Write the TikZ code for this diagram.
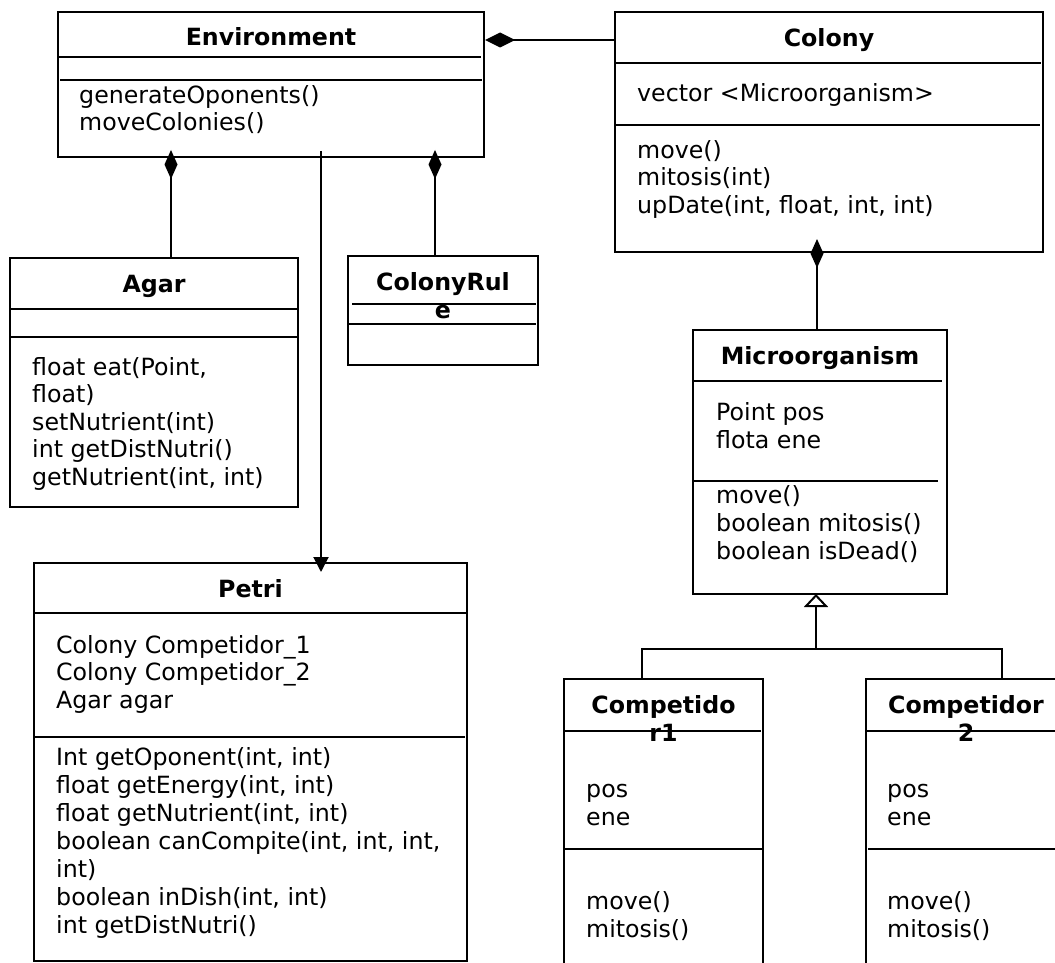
\documentclass[tikz,border=0pt]{standalone}
\usepackage{fontspec}
\setmainfont{DejaVu Sans}
\usetikzlibrary{arrows.meta}
\tikzset{
  umlbox/.style={draw, line width=2pt, anchor=north west, inner sep=0pt, outer sep=0pt},
  sep/.style={line width=2pt},
  txt/.style={anchor=base west, inner sep=0pt, font=\fontsize{23.7pt}{27pt}\selectfont},
  ttl/.style={anchor=base, inner sep=0pt, font=\fontsize{23.7pt}{27pt}\selectfont\bfseries},
  conn/.style={line width=2pt},
  compo/.style={conn, -{Diamond[length=29pt,width=13pt]}},
  nav/.style={conn, -{Triangle[length=15pt,width=15pt]}},
  gener/.style={conn, -{Triangle[open,length=13pt,width=24pt]}}
}
\begin{document}
\begin{tikzpicture}[x=1pt,y=-1pt]
\useasboundingbox (0,0) rectangle (1055,963);
\clip (0,0) rectangle (1055,963);

% ---------------- boxes
\node[umlbox, minimum width=426pt, minimum height=145pt] (env) at (58,12) {};
\node[umlbox, minimum width=428pt, minimum height=240pt] (colony) at (615,12) {};
\node[umlbox, minimum width=288pt, minimum height=249pt] (agar) at (10,258) {};
\node[umlbox, minimum width=190pt, minimum height=109pt] (colrule) at (348,256) {};
\node[umlbox, minimum width=433pt, minimum height=398pt] (petri) at (34,563) {};
\node[umlbox, minimum width=254pt, minimum height=264pt] (micro) at (693,330) {};
\node[umlbox, minimum width=199pt, minimum height=330pt] (comp1) at (564,679) {};
\node[umlbox, minimum width=200pt, minimum height=330pt] (comp2) at (866,679) {};

% ---------------- Environment
\node[ttl] (envT) at (271,46) {Environment};
\draw[sep] (58,57) -- (481,57);
\draw[sep] (60,80) -- (482,80);
\node[txt] (envM1) at (79,104) {generateOponents()};
\node[txt] (envM2) at (79,131) {moveColonies()};

% ---------------- Colony
\node[ttl] (colT) at (829,47) {Colony};
\draw[sep] (615,63) -- (1041,63);
\node[txt] (colA1) at (637,102) {vector <Microorganism>};
\draw[sep] (615,125) -- (1040,125);
\node[txt] (colM1) at (637,158) {move()};
\node[txt] (colM2) at (637,185.5) {mitosis(int)};
\node[txt] (colM3) at (637,213) {upDate(int, float, int, int)};

% ---------------- Agar
\node[ttl] (agT) at (154,292) {Agar};
\draw[sep] (10,309) -- (298,309);
\draw[sep] (10,337) -- (298,337);
\node[txt] (agM1) at (32,375) {float eat(Point,};
\node[txt] (agM2) at (32,402.5) {float)};
\node[txt] (agM3) at (32,430) {setNutrient(int)};
\node[txt] (agM4) at (32,457.5) {int getDistNutri()};
\node[txt] (agM5) at (32,485) {getNutrient(int, int)};

% ---------------- ColonyRule
\draw[sep] (352,304) -- (536,304);
\draw[sep] (348,324) -- (536,324);
\node[ttl] (crT1) at (443,290) {ColonyRul};
\node[ttl] (crT2) at (443,318) {e};

% ---------------- Petri
\node[ttl] (peT) at (250.5,597) {Petri};
\draw[sep] (34,613) -- (467,613);
\node[txt] (peA1) at (56,653) {Colony Competidor\_1};
\node[txt] (peA2) at (56,680.5) {Colony Competidor\_2};
\node[txt] (peA3) at (56,708) {Agar agar};
\draw[sep] (34,737) -- (465,737);
\node[txt] (peM1) at (56,765) {Int getOponent(int, int)};
\node[txt] (peM2) at (56,793) {float getEnergy(int, int)};
\node[txt] (peM3) at (56,821) {float getNutrient(int, int)};
\node[txt] (peM4) at (56,849) {boolean canCompite(int, int, int,};
\node[txt] (peM5) at (56,877) {int)};
\node[txt] (peM6) at (56,905) {boolean inDish(int, int)};
\node[txt] (peM7) at (56,933) {int getDistNutri()};

% ---------------- Microorganism
\node[ttl] (miT) at (820,364) {Microorganism};
\draw[sep] (693,381) -- (942,381);
\node[txt] (miA1) at (716,420) {Point pos};
\node[txt] (miA2) at (716,448) {flota ene};
\draw[sep] (693,481) -- (938,481);
\node[txt] (miM1) at (716,503) {move()};
\node[txt] (miM2) at (716,531) {boolean mitosis()};
\node[txt] (miM3) at (716,559) {boolean isDead()};

% ---------------- Competidor1
\draw[sep] (564,731) -- (761,731);
\node[ttl] (c1T1) at (663.5,713) {Competido};
\node[ttl] (c1T2) at (663.5,741) {r1};
\node[txt] (c1A1) at (586,797) {pos};
\node[txt] (c1A2) at (586,825) {ene};
\draw[sep] (564,849) -- (763,849);
\node[txt] (c1M1) at (586,909) {move()};
\node[txt] (c1M2) at (586,937) {mitosis()};

% ---------------- Competidor2
\draw[sep] (866,731) -- (1066,731);
\node[ttl] (c2T1) at (966,713) {Competidor};
\node[ttl] (c2T2) at (966,741) {2};
\node[txt] (c2A1) at (887,797) {pos};
\node[txt] (c2A2) at (887,825) {ene};
\draw[sep] (868,849) -- (1066,849);
\node[txt] (c2M1) at (887,909) {move()};
\node[txt] (c2M2) at (887,937) {mitosis()};

% ---------------- connectors
\coordinate (envR) at (485,40);
\coordinate (envB1) at (171,150);
\coordinate (envB2) at (435,150);
\coordinate (envP) at (321,151);
\coordinate (petriIn) at (321,572);
\coordinate (colB) at (817,239);
\coordinate (gen) at (816,649);
\coordinate (g1) at (642,649);
\coordinate (g2) at (1002,649);

\draw[conn, -{Diamond[length=30pt,width=15pt]}] (colony.west |- envR) -- (envR);
\draw[compo] (agar.north -| envB1) -- (envB1);
\draw[compo] (colrule.north -| envB2) -- (envB2);
\draw[compo] (micro.north -| colB) -- (colB);
\draw[nav] (envP) -- (petriIn);
\draw[gener] (gen) -- (micro.south -| gen);
\draw[conn] (comp1.north -| g1) -- (g1) -- (g2) -- (comp2.north -| g2);
\end{tikzpicture}
\end{document}
